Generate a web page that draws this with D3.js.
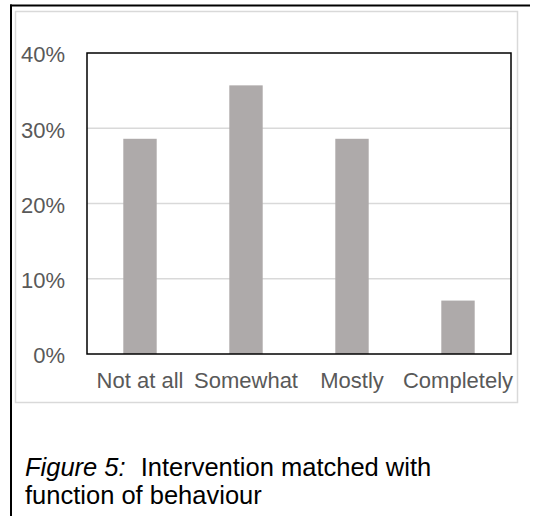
<!DOCTYPE html>
<html>
<head>
<meta charset="utf-8">
<script src="https://cdn.jsdelivr.net/npm/d3@7"></script>
<style>
  html, body { margin: 0; padding: 0; background: #fff; }
  svg { display: block; font-family: "Liberation Sans", Arial, sans-serif; }
</style>
</head>
<body>
<svg id="chart" width="537" height="516"></svg>
<script>
// Share of responses per rating category
const categories = ["Not at all", "Somewhat", "Mostly", "Completely"];
const shares = [0.286, 0.357, 0.286, 0.071];
const yTicks = [0, 0.1, 0.2, 0.3, 0.4];
const captionLead = "Figure 5:";
const captionLine1 = "Intervention matched with";
const captionLine2 = "function of behaviour";

const svg = d3.select("#chart");

// Outer frame: top and left rules
svg.append("line").attr("x1", 10).attr("x2", 530).attr("y1", 5.5).attr("y2", 5.5)
  .attr("stroke", "#000").attr("stroke-width", 2);
svg.append("line").attr("x1", 11).attr("x2", 11).attr("y1", 4.5).attr("y2", 516)
  .attr("stroke", "#000").attr("stroke-width", 2);

// Chart area border
svg.append("rect").attr("x", 15.5).attr("y", 11.5).attr("width", 502).attr("height", 391)
  .attr("fill", "#fff").attr("stroke", "#d9d9d9").attr("stroke-width", 1.5);

const plot = { left: 87, right: 511, top: 53, bottom: 354 };

const x = d3.scaleBand().domain(categories)
  .range([plot.left, plot.right]).paddingInner(0.685).paddingOuter(0.3425);
const y = d3.scaleLinear().domain([0, 0.4]).range([plot.bottom, plot.top]);

// Horizontal gridlines
svg.append("g").selectAll("line").data(yTicks.slice(1, -1)).join("line")
  .attr("x1", plot.left).attr("x2", plot.right)
  .attr("y1", d => y(d)).attr("y2", d => y(d))
  .attr("stroke", "#d9d9d9").attr("stroke-width", 1.5);

// Bars
svg.append("g").selectAll("rect").data(shares).join("rect")
  .attr("x", (d, i) => x(categories[i]))
  .attr("width", x.bandwidth())
  .attr("y", d => y(d))
  .attr("height", d => y(0) - y(d))
  .attr("fill", "#aeaaaa");

// Plot border
svg.append("rect")
  .attr("x", plot.left).attr("y", plot.top)
  .attr("width", plot.right - plot.left).attr("height", plot.bottom - plot.top)
  .attr("fill", "none").attr("stroke", "#000").attr("stroke-width", 1.5);

// Y axis labels
const yAxis = d3.axisLeft(y).tickValues(yTicks).tickFormat(d3.format(".0%"))
  .tickSize(0).tickPadding(22);
const gy = svg.append("g").attr("transform", `translate(${plot.left},0)`).call(yAxis);
gy.select(".domain").remove();
gy.selectAll("text").attr("fill", "#595959").style("font-size", "22px")
  .attr("font-family", "Liberation Sans, Arial, sans-serif").attr("dy", "0.4em");

// X axis labels
const xAxis = d3.axisBottom(x).tickSize(0).tickPadding(18);
const gx = svg.append("g").attr("transform", `translate(0,${plot.bottom})`).call(xAxis);
gx.select(".domain").remove();
gx.selectAll("text").attr("fill", "#595959").style("font-size", "22px")
  .attr("font-family", "Liberation Sans, Arial, sans-serif");

// Caption
const cap = svg.append("text").attr("x", 25).attr("y", 476)
  .attr("fill", "#000").style("font-size", "25.5px");
cap.append("tspan").attr("font-style", "italic").text(captionLead);
cap.append("tspan").attr("dx", 15).text(captionLine1);
svg.append("text").attr("x", 25).attr("y", 504)
  .attr("fill", "#000").style("font-size", "25.5px").text(captionLine2);
</script>
</body>
</html>
